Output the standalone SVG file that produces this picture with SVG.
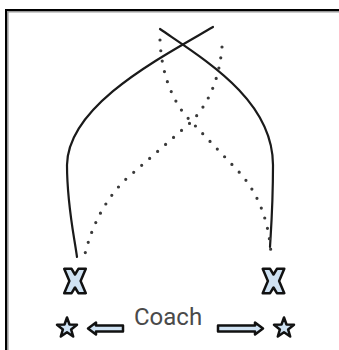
<svg xmlns="http://www.w3.org/2000/svg" width="339" height="350" viewBox="0 0 339 350">
<defs>
<style>
.solid{fill:none;stroke:#1a1a1a;stroke-width:2.2;stroke-linecap:round}
.dot{fill:none;stroke:#3a3a3a;stroke-width:3.2;stroke-linecap:round;stroke-dasharray:0 10.6}
.icon{fill:#cfe2f3;stroke:#111;stroke-width:2.5;stroke-linejoin:round}
.label{font-family:Roboto,"Liberation Sans",Arial,sans-serif;font-size:24px;fill:#4a4a4a}
</style>
<polygon id="xshape" points="-10.8,-12.2 -3.4,-12.2 0,-6.5 3.4,-12.2 10.8,-12.2 5.6,0 10.8,12.2 3.4,12.2 0,6.5 -3.4,12.2 -10.8,12.2 -5.6,0"/>
<polygon id="star" points="0,-10.5 2.5,-3.5 10,-3.3 4.1,1.4 6.2,8.5 0,4.3 -6.2,8.5 -4.1,1.4 -10,-3.3 -2.5,-3.5"/>
</defs>
<rect width="339" height="350" fill="#fff"/>
<g id="frame">
<line x1="7" y1="11.8" x2="339" y2="11.8" stroke="#999" stroke-width="1.6"/>
<line x1="7.8" y1="11" x2="7.8" y2="350" stroke="#999" stroke-width="1.6"/>
<line x1="5" y1="10" x2="339" y2="10" stroke="#000" stroke-width="2"/>
<line x1="6" y1="9" x2="6" y2="350" stroke="#000" stroke-width="2"/>
</g>
<g id="connectors">
<path class="solid" d="M213,27 C160,58 68,105 67,165 C67,205 74,235 77,257"/>
<path class="solid" d="M160,29 C205,60 273,100 273,165 C273,205 271,230 270,247"/>
<path class="dot" d="M222,47 Q218,95 190,123 L125,180 Q95,210 84,258"/>
<path class="dot" d="M160,40 Q162,85 185,115 L240,173 Q268,205 271,254"/>
</g>
<g id="player-left"><use href="#xshape" class="icon" transform="translate(75,281)"/></g>
<g id="player-right"><use href="#xshape" class="icon" transform="translate(273.5,281)"/></g>
<g id="star-left"><use href="#star" class="icon" transform="translate(67,328)"/></g>
<g id="star-right"><use href="#star" class="icon" transform="translate(284,328)"/></g>
<g id="arrow-left"><polygon class="icon" points="88,328.5 96,322.5 96,325.5 123,325.5 123,331.5 96,331.5 96,334.5"/></g>
<g id="arrow-right"><polygon class="icon" points="263,328.5 255,322.5 255,325.5 218,325.5 218,331.5 255,331.5 255,334.5"/></g>
<g id="coach"><text class="label" x="134" y="325">Coach</text></g>
</svg>
